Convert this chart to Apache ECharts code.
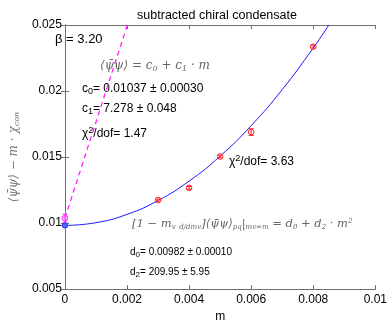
<!DOCTYPE html>
<html>
<head>
<meta charset="utf-8">
<script src="https://cdn.jsdelivr.net/npm/echarts@6/dist/echarts.min.js"></script>
<style>
  html, body { margin: 0; padding: 0; background: #fff; }
  #chart { width: 390px; height: 328px; }
</style>
</head>
<body>
<div id="chart"></div>
<script>
// measured points (subtracted condensate) with error bars
var mVals = [0.003, 0.004, 0.005, 0.006, 0.008]
var condVals = [0.01174, 0.01267, 0.01504, 0.01689, 0.02336]
var condErr = [0.00008, 0.0001, 0.0001, 0.00025, 0.0001]

// extrapolated values at m = 0
var zeroFitD = [0, 0.00982, 0.00010]
var zeroFitC = [0, 0.01037, 0.00030]

// quadratic fit curve
var curveM = [0, 0.001, 0.002, 0.003, 0.004, 0.005, 0.006, 0.007, 0.008, 0.0085]
var curveY = [0.00982, 0.01003, 0.01066, 0.01171, 0.01318, 0.01507, 0.01738, 0.02011, 0.02326, 0.02499]

// linear fit (dashed)
var lineM = [0, 0.00201]
var lineY = [0.01037, 0.025]

var xTicks = [0, 0.002, 0.004, 0.006, 0.008, 0.01]
var yTicks = [0.005, 0.01, 0.015, 0.02, 0.025]

var chart = echarts.init(document.getElementById('chart'))

function errBars (color, r, fill) {
  return function (params, api) {
    var x = api.value(0)
    var y = api.value(1)
    var e = api.value(2)
    var c = api.coord([x, y])
    var lo = api.coord([x, y - e])
    var hi = api.coord([x, y + e])
    return {
      type: 'group',
      children: [
        { type: 'line', shape: { x1: c[0], y1: lo[1], x2: c[0], y2: hi[1] }, style: { stroke: color, lineWidth: 1 } },
        { type: 'line', shape: { x1: c[0] - 2.5, y1: lo[1], x2: c[0] + 2.5, y2: lo[1] }, style: { stroke: color, lineWidth: 1 } },
        { type: 'line', shape: { x1: c[0] - 2.5, y1: hi[1], x2: c[0] + 2.5, y2: hi[1] }, style: { stroke: color, lineWidth: 1 } },
        { type: 'circle', shape: { cx: c[0], cy: c[1], r: r }, style: { stroke: color, fill: fill, lineWidth: 1 } }
      ]
    }
  }
}

var axisGrey = '#6e6e6e'
var mathFont = '"DejaVu Serif", serif'
var sans = 'Liberation Sans, Arial, sans-serif'

function tickFmt (v) { return String(+v.toFixed(4)) }

var option = {
  animation: false,
  title: {
    text: 'subtracted chiral condensate',
    left: 212, top: 4, textAlign: 'center',
    textStyle: { fontSize: 12.5, fontWeight: 'normal', color: '#000', fontFamily: sans }
  },
  grid: { left: 48, right: 13, top: 25, bottom: 30 },
  xAxis: [{
    type: 'value', min: 0, max: 0.01, interval: 0.002,
    name: 'm', nameLocation: 'middle', nameGap: 21,
    nameTextStyle: { color: '#000', fontSize: 12, fontFamily: sans },
    axisLine: { show: true, lineStyle: { color: axisGrey } },
    axisTick: { inside: true, length: 4, lineStyle: { color: axisGrey } },
    axisLabel: { color: '#000', fontSize: 12, margin: 5, fontFamily: sans, formatter: tickFmt },
    splitLine: { show: false }
  }, {
    type: 'value', min: 0, max: 0.01, interval: 0.002, position: 'top',
    axisLine: { show: true, lineStyle: { color: axisGrey } },
    axisTick: { inside: true, length: 4, lineStyle: { color: axisGrey } },
    axisLabel: { show: false }, splitLine: { show: false }
  }],
  yAxis: [{
    type: 'value', min: 0.005, max: 0.025, interval: 0.005,
    name: '⟨ψ̄ψ⟩ − m · χ{s|con}', nameLocation: 'middle', nameGap: 36, nameRotate: 90,
    nameTextStyle: { color: '#777', fontSize: 12, fontFamily: mathFont, fontStyle: 'italic',
      rich: { s: { fontSize: 8, color: '#777', fontFamily: mathFont, verticalAlign: 'bottom', padding: [6, 0, 0, 0] } } },
    axisLine: { show: true, lineStyle: { color: axisGrey } },
    axisTick: { inside: true, length: 4, lineStyle: { color: axisGrey } },
    axisLabel: { color: '#000', fontSize: 12, margin: 3, fontFamily: sans, formatter: tickFmt },
    splitLine: { show: false }
  }, {
    type: 'value', min: 0.005, max: 0.025, interval: 0.005, position: 'right',
    axisLine: { show: true, lineStyle: { color: axisGrey } },
    axisTick: { inside: true, length: 4, lineStyle: { color: axisGrey } },
    axisLabel: { show: false }, splitLine: { show: false }
  }],
  series: [
    {
      type: 'line', smooth: true, symbol: 'none',
      data: curveM.map(function (m, i) { return [m, curveY[i]] }),
      lineStyle: { color: '#1a1aff', width: 1 }
    },
    {
      type: 'line', symbol: 'none',
      data: lineM.map(function (m, i) { return [m, lineY[i]] }),
      lineStyle: { color: '#ff22ff', width: 1.3, type: [5, 4] }
    },
    {
      type: 'custom', renderItem: errBars('#ff2020', 2.8, 'none'),
      data: mVals.map(function (m, i) { return [m, condVals[i], condErr[i]] }),
      z: 5
    },
    {
      type: 'custom', renderItem: errBars('#ff33ff', 2.8, 'rgba(255,120,255,0.5)'),
      data: [zeroFitC], z: 5
    },
    {
      type: 'custom', renderItem: errBars('#2233ff', 2.6, '#5566ff'),
      data: [zeroFitD], z: 6
    }
  ],
  graphic: [
    { type: 'text', left: 55, top: 33, style: { text: 'β = 3.20', fontSize: 13, fill: '#000', fontFamily: sans } },
    { type: 'text', left: 100, top: 60, style: {
      text: '⟨ψ̄ψ⟩ = c{s|0} + c{s|1} · m', fontSize: 12, fill: '#666', fontFamily: mathFont, fontStyle: 'italic',
      rich: { s: { fontSize: 8, fill: '#666', fontFamily: mathFont, fontStyle: 'italic', verticalAlign: 'bottom', padding: [5, 0, 0, 0] } } } },
    { type: 'text', left: 82, top: 83, style: {
      text: 'c{s|0}= 0.01037 ± 0.00030', fontSize: 12, fill: '#000', fontFamily: sans,
      rich: { s: { fontSize: 9, fill: '#000', verticalAlign: 'bottom', padding: [6, 0, 0, 0] } } } },
    { type: 'text', left: 82, top: 103, style: {
      text: 'c{s|1}= 7.278 ± 0.048', fontSize: 12, fill: '#000', fontFamily: sans,
      rich: { s: { fontSize: 9, fill: '#000', verticalAlign: 'bottom', padding: [6, 0, 0, 0] } } } },
    { type: 'text', left: 82, top: 126, style: {
      text: 'χ{p|2}/dof= 1.47', fontSize: 12, fill: '#000', fontFamily: sans,
      rich: { p: { fontSize: 9, fill: '#000', verticalAlign: 'top', padding: [0, 0, 6, 0] } } } },
    { type: 'text', left: 229, top: 154, style: {
      text: 'χ{p|2}/dof= 3.63', fontSize: 12, fill: '#000', fontFamily: sans,
      rich: { p: { fontSize: 9, fill: '#000', verticalAlign: 'top', padding: [0, 0, 6, 0] } } } },
    { type: 'text', left: 132, top: 218, style: {
      text: '[1 − m{s|v} {s|d/dm}{s|v}]⟨ψ̄ψ⟩{s|pq}|{s|mv=m} = d{s|0} + d{s|2} · m{p|2}',
      fontSize: 11.5, fill: '#666', fontFamily: mathFont, fontStyle: 'italic',
      rich: {
        s: { fontSize: 7, fill: '#666', fontFamily: mathFont, fontStyle: 'italic', verticalAlign: 'bottom', padding: [6, 0, 0, 0] },
        p: { fontSize: 7, fill: '#666', fontFamily: mathFont, fontStyle: 'italic', verticalAlign: 'top', padding: [0, 0, 6, 0] }
      } } },
    { type: 'text', left: 130, top: 247, style: {
      text: 'd{s|0}= 0.00982 ± 0.00010', fontSize: 10, fill: '#000', fontFamily: sans,
      rich: { s: { fontSize: 8, fill: '#000', verticalAlign: 'bottom', padding: [5, 0, 0, 0] } } } },
    { type: 'text', left: 130, top: 267, style: {
      text: 'd{s|2}= 209.95 ± 5.95', fontSize: 10, fill: '#000', fontFamily: sans,
      rich: { s: { fontSize: 8, fill: '#000', verticalAlign: 'bottom', padding: [5, 0, 0, 0] } } } }
  ]
}
chart.setOption(option)
</script>
</body>
</html>
